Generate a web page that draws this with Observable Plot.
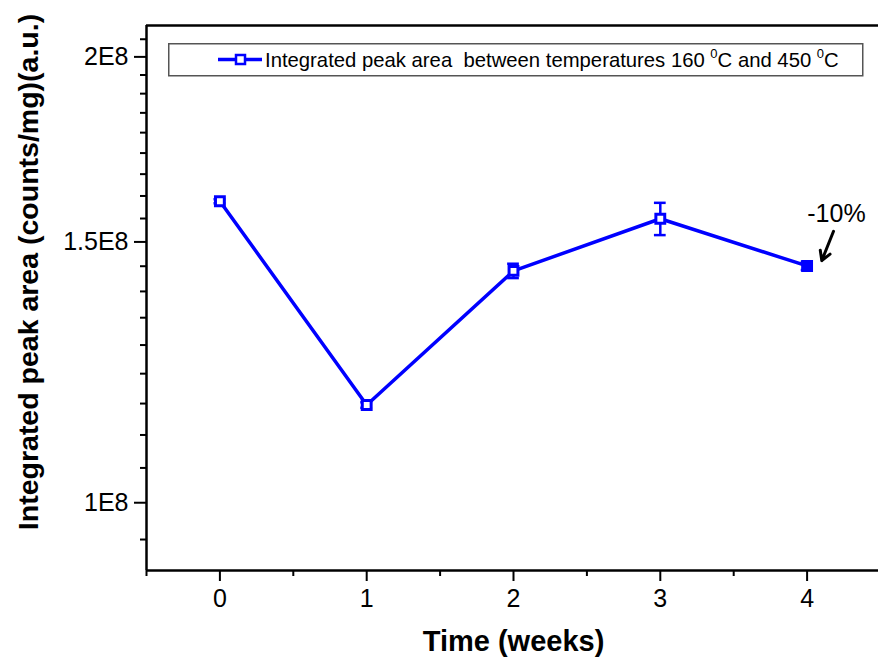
<!DOCTYPE html>
<html><head><meta charset="utf-8">
<script src="https://cdn.jsdelivr.net/npm/d3@7"></script>
<script src="https://cdn.jsdelivr.net/npm/@observablehq/plot@0.6"></script>
<style>
body{margin:0;background:#fff;}
#wrap{position:relative;width:878px;height:671px;overflow:hidden;font-family:"Liberation Sans",Arial,sans-serif;}
#legend{position:absolute;left:168px;top:43px;}
</style></head><body><div id="wrap"></div>
<script>
// ---- data ----
const weeks = [0, 1, 2, 3, 4];
const peakArea = [1.598e8, 1.164e8, 1.434e8, 1.555e8, 1.445e8];
const peakErr = [0.5e6, 0.5e6, 1.6e6, 3.9e6, 0.9e6];
const filledMarker = [false, false, false, false, true];
const yTickValues = [1e8, 1.5e8, 2e8];
const yTickLabels = ["1E8", "1.5E8", "2E8"];
const xTickValues = [0, 1, 2, 3, 4];
const xTickLabels = ["0", "1", "2", "3", "4"];
const xMinorTicks = [-0.5, 0.5, 1.5, 2.5, 3.5];
const yMinorTicks = [9.444e7, 1.0556e8, 1.1111e8, 1.1667e8, 1.2222e8, 1.2778e8, 1.3333e8, 1.3889e8, 1.4444e8,
  1.5556e8, 1.6111e8, 1.6667e8, 1.7222e8, 1.7778e8, 1.8333e8, 1.8889e8, 1.9444e8, 2.0556e8];
const xDomain = [-0.5, 4.5];
const yDomain = [9e7, 2.1e8];
const legendLabel = ["Integrated peak area\u00a0 between temperatures 160 ", "0", "C and 450 ", "0", "C"];
const annotations = [{text: "-10%", x: 4.2, y: 1.567e8, x1: 4.18, y1: 1.525e8, x2: 4.10, y2: 1.457e8}];
const xTitle = "Time (weeks)";
const yTitle = "Integrated peak area (counts/mg)(a.u.)";

const blue = "#0000ff";
const rows = weeks.map((w, i) => ({w, v: peakArea[i], lo: peakArea[i] - peakErr[i], hi: peakArea[i] + peakErr[i], filled: filledMarker[i]}));

const chart = Plot.plot({
  width: 878, height: 671,
  marginLeft: 146, marginRight: -2, marginTop: 25, marginBottom: 101,
  x: {domain: xDomain},
  y: {type: "log", domain: yDomain},
  style: {fontFamily: "'Liberation Sans', Arial, sans-serif", color: "#000", background: "#fff", overflow: "visible"},
  marks: [
    Plot.axisY(yMinorTicks, {tickSize: 6, tickFormat: () => "", label: null, strokeWidth: 2}),
    Plot.axisY(yTickValues, {tickSize: 12, tickPadding: 6, fontSize: 25, label: null, strokeWidth: 2,
      tickFormat: d => yTickLabels[yTickValues.indexOf(d)]}),
    Plot.axisX(xMinorTicks, {tickSize: 6, tickFormat: () => "", label: null, strokeWidth: 2}),
    Plot.axisX(xTickValues, {tickSize: 11, tickPadding: 8, fontSize: 25, label: null, strokeWidth: 2,
      tickFormat: d => xTickLabels[xTickValues.indexOf(d)]}),
    Plot.ruleY([yDomain[1]], {stroke: "#000", strokeWidth: 2.5}),
    Plot.ruleY([yDomain[0]], {stroke: "#000", strokeWidth: 2.5}),
    Plot.ruleX([xDomain[0]], {stroke: "#000", strokeWidth: 2.5}),
    Plot.line(rows, {x: "w", y: "v", stroke: blue, strokeWidth: 3.5}),
    Plot.ruleX(rows, {x: "w", y1: "lo", y2: "hi", stroke: blue, strokeWidth: 2.5}),
    Plot.ruleY(rows, {y: "lo", x1: d => d.w - 0.04, x2: d => d.w + 0.04, stroke: blue, strokeWidth: 2.5}),
    Plot.ruleY(rows, {y: "hi", x1: d => d.w - 0.04, x2: d => d.w + 0.04, stroke: blue, strokeWidth: 2.5}),
    Plot.dot(rows.filter(d => !d.filled), {x: "w", y: "v", symbol: "square", r: 5, stroke: blue, strokeWidth: 3, fill: "white"}),
    Plot.dot(rows.filter(d => d.filled), {x: "w", y: "v", symbol: "square", r: 5, stroke: blue, strokeWidth: 3, fill: blue}),
    Plot.text(annotations, {x: "x", y: "y", text: "text", fontSize: 25, fill: "#000"}),
    Plot.arrow(annotations, {x1: "x1", y1: "y1", x2: "x2", y2: "y2", stroke: "#000", strokeWidth: 3, headLength: 11}),
    Plot.text([xTitle], {frameAnchor: "bottom", dy: 80, fontSize: 29, fontWeight: "bold", fill: "#000"}),
    Plot.text([yTitle], {frameAnchor: "left", textAnchor: "middle", rotate: -90, dx: -118, dy: -26, fontSize: 28.5, fontWeight: "bold", fill: "#000"})
  ]
});
const wrap = document.getElementById("wrap");
wrap.appendChild(chart);

// legend (inside the plot area, like the reference)
const leg = d3.select(wrap).append("svg").attr("id", "legend").attr("width", 696).attr("height", 34);
leg.append("rect").attr("x", 0.75).attr("y", 0.75).attr("width", 694).attr("height", 32)
  .attr("fill", "#fff").attr("stroke", "#555").attr("stroke-width", 1.5);
leg.append("line").attr("x1", 50).attr("x2", 94).attr("y1", 16.5).attr("y2", 16.5).attr("stroke", blue).attr("stroke-width", 3.5);
leg.append("rect").attr("x", 68).attr("y", 12).attr("width", 9).attr("height", 9).attr("fill", "#fff").attr("stroke", blue).attr("stroke-width", 2.5);
const t = leg.append("text").attr("x", 97).attr("y", 24).attr("font-size", 20.3).attr("fill", "#000")
  .attr("font-family", "'Liberation Sans', Arial, sans-serif");
legendLabel.forEach((s, i) => {
  const ts = t.append("tspan").text(s);
  if (i % 2 === 1) ts.attr("font-size", 13).attr("dy", -9);
  else if (i > 0) ts.attr("dy", 9);
});
</script></body></html>
